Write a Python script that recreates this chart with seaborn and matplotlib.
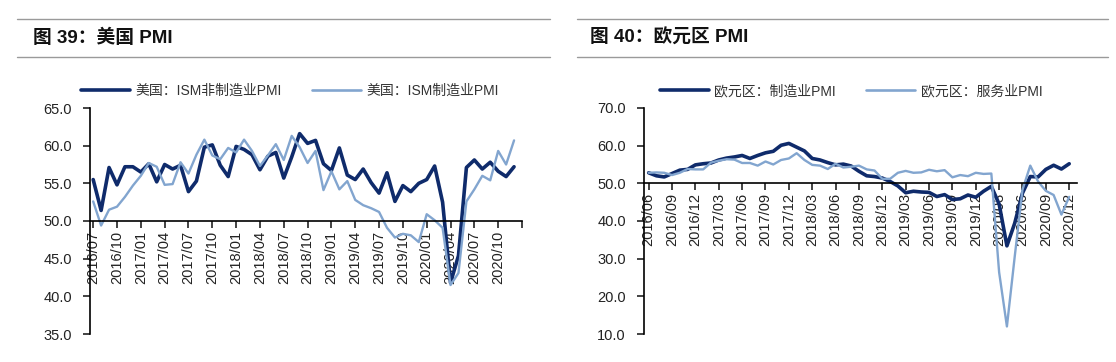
import numpy as np
import pandas as pd
import seaborn as sns
import matplotlib.pyplot as plt
from matplotlib.lines import Line2D
from matplotlib.ticker import FormatStrFormatter

# 美国 ISM PMI, 2016/07 - 2020/12
us_months = pd.period_range('2016-07', '2020-12', freq='M').strftime('%Y/%m').tolist()
us_nonmfg = [55.5, 51.4, 57.1, 54.8, 57.2, 57.2,
             56.5, 57.6, 55.2, 57.5, 56.9, 57.4, 53.9, 55.3, 59.8, 60.1, 57.4, 55.9,
             59.9, 59.5, 58.8, 56.8, 58.6, 59.1, 55.7, 58.5, 61.6, 60.3, 60.7, 57.6,
             56.7, 59.7, 56.1, 55.5, 56.9, 55.1, 53.7, 56.4, 52.6, 54.7, 53.9, 55.0,
             55.5, 57.3, 52.5, 41.8, 45.4, 57.1, 58.1, 56.9, 57.8, 56.6, 55.9, 57.2]
us_mfg = [52.6, 49.4, 51.5, 51.9, 53.2, 54.7,
          56.0, 57.7, 57.2, 54.8, 54.9, 57.8, 56.3, 58.8, 60.8, 58.7, 58.2, 59.7,
          59.1, 60.8, 59.3, 57.3, 58.7, 60.2, 58.1, 61.3, 59.8, 57.7, 59.3, 54.1,
          56.6, 54.2, 55.3, 52.8, 52.1, 51.7, 51.2, 49.1, 47.8, 48.3, 48.1, 47.2,
          50.9, 50.1, 49.1, 41.5, 43.1, 52.6, 54.2, 56.0, 55.4, 59.3, 57.5, 60.7]

# 欧元区 PMI, 2016/06 - 2020/12
eu_months = pd.period_range('2016-06', '2020-12', freq='M').strftime('%Y/%m').tolist()
eu_mfg = [52.8, 52.0, 51.7, 52.6, 53.5, 53.7, 54.9,
          55.2, 55.4, 56.2, 56.7, 57.0, 57.4, 56.6, 57.4, 58.1, 58.5, 60.1, 60.6,
          59.6, 58.6, 56.6, 56.2, 55.5, 54.9, 55.1, 54.6, 53.2, 52.0, 51.8, 51.4,
          50.5, 49.3, 47.5, 47.9, 47.7, 47.6, 46.5, 47.0, 45.7, 45.9, 46.9, 46.3,
          47.9, 49.2, 44.5, 33.4, 39.4, 47.4, 51.8, 51.7, 53.7, 54.8, 53.8, 55.2]
eu_srv = [52.8, 52.9, 52.8, 52.2, 52.8, 53.8, 53.7,
          53.7, 55.5, 56.0, 56.4, 56.3, 55.4, 55.4, 54.7, 55.8, 55.0, 56.2, 56.6,
          58.0, 56.2, 54.9, 54.7, 53.8, 55.2, 54.2, 54.4, 54.7, 53.7, 53.4, 51.2,
          51.2, 52.8, 53.3, 52.8, 52.9, 53.6, 53.2, 53.5, 51.6, 52.2, 51.9, 52.8,
          52.5, 52.6, 26.4, 12.0, 30.5, 48.3, 54.7, 50.5, 48.0, 46.9, 41.7, 46.4]

DARK = '#0f2b6b'
LIGHT = '#82a5cf'

sns.set_style('white')
plt.rcParams['font.family'] = ['Liberation Sans', 'Noto Sans CJK SC', 'DejaVu Sans']

W, H = 1116, 362
fig = plt.figure(figsize=(W / 100, H / 100), dpi=100)


def panel(ax, months, s1, s2, names, yticks, xlim, leg_x):
    x = np.arange(len(months))
    sns.lineplot(x=x, y=s1, ax=ax, color=DARK, linewidth=2.6, label=names[0])
    sns.lineplot(x=x, y=s2, ax=ax, color=LIGHT, linewidth=1.7, label=names[1])

    ax.set_ylim(yticks[0], yticks[-1])
    ax.set_yticks(yticks)
    ax.yaxis.set_major_formatter(FormatStrFormatter('%.1f'))
    ax.set_xlim(*xlim)
    ticks = list(range(0, int(xlim[1]) + 1, 3))
    labels = [months[t] if t < len(months) else '' for t in ticks]
    ax.set_xticks(ticks)
    ax.set_xticklabels(labels)
    ax.set_xlabel('')
    ax.set_ylabel('')

    for side in ['top', 'right']:
        ax.spines[side].set_visible(False)
    ax.spines['bottom'].set_position(('data', 50))
    for side in ['left', 'bottom']:
        ax.spines[side].set_color('black')
        ax.spines[side].set_linewidth(1.2)

    ax.tick_params(axis='x', direction='out', length=5, width=1.2, pad=2,
                   labelsize=10.5, colors='#222222', bottom=True,
                   labelrotation=90)
    ax.tick_params(axis='y', direction='out', length=5, width=1.2, pad=8,
                   labelsize=10.5, colors='#222222', left=True)

    ax.legend(ncol=2, loc='center left', bbox_to_anchor=(leg_x, 1.075),
              frameon=False, handlelength=3.5, handletextpad=0.4,
              columnspacing=2.2, borderpad=0, borderaxespad=0,
              prop={'size': 10}, labelcolor='#333333')
    for l in ax.get_legend().get_lines():
        l.set_linewidth(2.6 if l.get_color() == DARK else 1.9)


ax1 = fig.add_axes([90 / W, 28 / H, 432 / W, 226 / H])
panel(ax1, us_months, us_nonmfg, us_mfg,
      ['美国：ISM非制造业PMI', '美国：ISM制造业PMI'],
      np.arange(35, 66, 5), (-0.4, 54), -0.021)

ax2 = fig.add_axes([644 / W, 28 / H, 433 / W, 226 / H])
panel(ax2, eu_months, eu_mfg, eu_srv,
      ['欧元区：制造业PMI', '欧元区：服务业PMI'],
      np.arange(10, 71, 10), (-0.6, 55), 0.037)

# 标题和分隔线
for x0, x1, tx, title in [(17, 550, 33, '图 39：美国 PMI'),
                          (577, 1108, 590, '图 40：欧元区 PMI')]:
    for y in (19, 57):
        fig.add_artist(Line2D([x0 / W, x1 / W], [1 - y / H] * 2,
                              color='#9a9a9a', linewidth=1))
    fig.text(tx / W, 1 - 38 / H, title, fontsize=13.5, fontweight='bold',
             va='center', ha='left', color='#111111')

fig.savefig('out.png', dpi=100)
